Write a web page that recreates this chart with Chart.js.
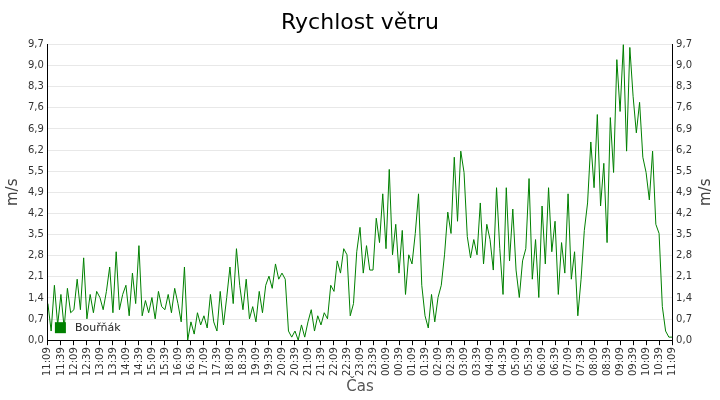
<!DOCTYPE html>
<html>
<head>
<meta charset="utf-8">
<script src="https://cdn.jsdelivr.net/npm/chart.js@4/dist/chart.umd.min.js"></script>
<style>
  body{margin:0;background:#fff;}
  #wrap{width:720px;height:400px;}
</style>
</head>
<body>
<div id="wrap"><canvas id="c"></canvas></div>
<script>
const seriesName = "Bouřňák";
const tickLabels = ["11:09","11:39","12:09","12:39","13:09","13:39","14:09","14:39","15:09","15:39","16:09","16:39","17:09","17:39","18:09","18:39","19:09","19:39","20:09","20:39","21:09","21:39","22:09","22:39","23:09","23:39","00:09","00:39","01:09","01:39","02:09","02:39","03:09","03:39","04:09","04:39","05:09","05:39","06:09","06:39","07:09","07:39","08:09","08:39","09:09","09:39","10:09","10:39","11:09"];
// 4 readings per 30 min slot (every 7.5 min)
const speeds = [
  1.2,0.3,1.8,0.5, 1.5,0.4,1.7,0.9, 1.0,2.0,1.0,2.7, 0.7,1.5,0.9,1.6,
  1.4,1.0,1.6,2.4, 0.9,2.9,1.0,1.5, 1.8,0.8,2.2,1.2, 3.1,0.8,1.3,0.9,
  1.4,0.7,1.6,1.1, 1.0,1.5,0.9,1.7, 1.2,0.6,2.4,0.0, 0.6,0.2,0.9,0.5,
  0.8,0.4,1.5,0.6, 0.3,1.6,0.5,1.4, 2.4,1.2,3.0,1.8, 1.0,2.0,0.7,1.1,
  0.6,1.6,0.9,1.8, 2.1,1.7,2.5,2.0, 2.2,2.0,0.3,0.1, 0.3,0.0,0.5,0.1,
  0.6,1.0,0.3,0.8, 0.5,0.9,0.7,1.8, 1.6,2.6,2.2,3.0, 2.8,0.8,1.2,2.9,
  3.7,2.2,3.1,2.3, 2.3,4.0,3.2,4.8, 3.0,5.6,2.8,3.8, 2.2,3.6,1.5,2.8,
  2.5,3.5,4.8,1.8, 0.8,0.4,1.5,0.6, 1.4,1.8,2.8,4.2, 3.5,6.0,3.9,6.2,
  5.5,3.4,2.7,3.3, 2.8,4.5,2.5,3.8, 3.3,2.3,5.0,3.0, 1.5,5.0,2.6,4.3,
  2.3,1.4,2.6,3.0, 5.3,2.0,3.3,1.4, 4.4,2.5,5.0,2.9, 3.9,1.5,3.2,2.2,
  4.8,2.0,2.9,0.8, 2.0,3.6,4.5,6.5, 5.0,7.4,4.4,5.8, 3.2,7.3,5.5,9.2,
  7.5,9.7,6.2,9.6, 8.0,6.8,7.8,6.0, 5.5,4.6,6.2,3.8, 3.5,1.1,0.3,0.1,
  0.1
];
const yMax = 9.7;
const ySteps = 14;

const points = speeds.map((v,i)=>({x:i, y:v}));
const fmt = v => (Math.round(v*10)/10).toFixed(1).replace('.', ',');
const font = {family:'DejaVu Sans', size:10};

/* legend inside plot + right axis title reading upward like the left one */
const extras = {
  id:'extras',
  afterDraw(chart){
    const {ctx, chartArea} = chart;
    ctx.save();
    ctx.fillStyle = '#008000';
    ctx.fillRect(chartArea.left+7, chartArea.bottom-18, 11, 11);
    ctx.fillStyle = '#222';
    ctx.font = '11px DejaVu Sans';
    ctx.textBaseline = 'middle';
    ctx.fillText(seriesName, chartArea.left+27, chartArea.bottom-12);
    ctx.translate(706, (chartArea.top+chartArea.bottom)/2);
    ctx.rotate(-Math.PI/2);
    ctx.textAlign = 'center';
    ctx.fillStyle = '#444';
    ctx.font = '15px DejaVu Sans';
    ctx.fillText('m/s', 0, 0);
    ctx.restore();
  }
};

const yAxis = (pos)=>({
  type:'linear', position:pos, min:0, max:yMax,
  afterBuildTicks(ax){
    ax.ticks = [];
    for(let i=0;i<=ySteps;i++) ax.ticks.push({value:yMax*i/ySteps});
  },
  ticks:{callback:v=>fmt(v), color:'#333', font, padding:4},
  grid:{color: pos==='left' ? '#e8e8e8' : 'transparent', drawTicks:false},
  border:{color:'#000'},
  title:{display:true, text:'m/s', color: pos==='left' ? '#444' : 'transparent',
    font:{family:'DejaVu Sans', size:15}, padding:2}
});

new Chart(document.getElementById('c'), {
  type:'line',
  data:{datasets:[{
    label:seriesName, data:points, borderColor:'#008000', borderWidth:1,
    pointRadius:0, tension:0, fill:false
  }]},
  options:{
    responsive:true, maintainAspectRatio:false, animation:false,
    layout:{padding:{top:4,left:2,right:2,bottom:4}},
    plugins:{
      legend:{display:false}, tooltip:{enabled:false},
      title:{display:true, text:'Rychlost větru', color:'#000',
        font:{family:'DejaVu Sans', size:22, weight:'normal'}, padding:{top:6,bottom:8}}
    },
    scales:{
      x:{
        type:'linear', min:0, max:speeds.length-1,
        afterBuildTicks(ax){
          ax.ticks = tickLabels.map((_,i)=>({value:i*4}));
        },
        ticks:{callback:v=>tickLabels[v/4], autoSkip:false, maxRotation:90, minRotation:90,
          color:'#333', font, padding:2},
        grid:{display:true, drawOnChartArea:false, tickLength:5, color:'#000'},
        border:{color:'#000'},
        title:{display:true, text:'Čas', color:'#555', font:{family:'DejaVu Sans', size:15}, padding:0}
      },
      y:yAxis('left'),
      y2:yAxis('right')
    }
  },
  plugins:[extras]
});
</script>
</body>
</html>
